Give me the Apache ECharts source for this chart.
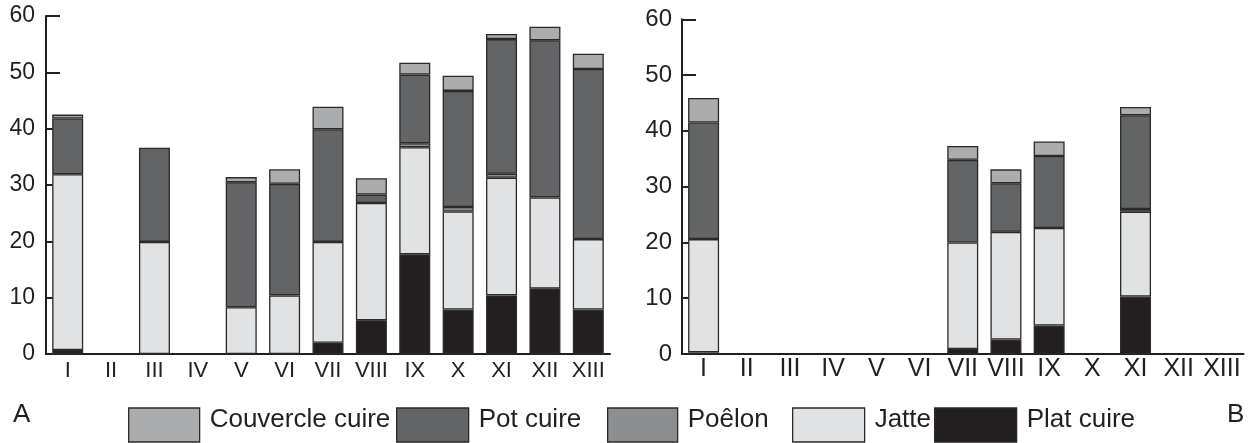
<!DOCTYPE html>
<html><head><meta charset="utf-8">
<script src="https://cdn.jsdelivr.net/npm/echarts@6/dist/echarts.min.js"></script>
<style>html,body{margin:0;padding:0;background:#fff}#c{width:1255px;height:443px}</style>
</head><body><div id="c"></div>
<script>
const categories = ['I','II','III','IV','V','VI','VII','VIII','IX','X','XI','XII','XIII'];
const yTicks = [0,10,20,30,40,50,60];
const seriesNames = ['Plat cuire','Jatte','Poêlon','Pot cuire','Couvercle cuire'];

// Panel A (stack bottom -> top)
const A_plat   = [0.7, null, null, null, null, null, 2.0, 6.0, 17.7, 7.9, 10.4, 11.6, 7.9];
const A_jatte  = [31.2, null, 19.9, null, 8.3, 10.4, 17.9, 20.8, 19.0, 17.4, 20.9, 16.2, 12.5];
const A_poelon = [null, null, null, null, null, null, null, null, 0.7, 0.8, 0.7, null, null];
const A_pot    = [9.9, null, 16.7, null, 22.2, 19.8, 20.0, 1.5, 12.2, 20.6, 23.9, 27.9, 30.2];
const A_couv   = [0.7, null, null, null, 0.9, 2.6, 4.0, 2.9, 2.1, 2.7, 0.9, 2.4, 2.7];

// Panel B
const B_plat   = [0.3, null, null, null, null, null, 0.9, 2.6, 5.1, null, 10.3, null, null];
const B_jatte  = [20.3, null, null, null, null, null, 19.1, 19.3, 17.5, null, 15.2, null, null];
const B_poelon = [null, null, null, null, null, null, null, null, null, null, 0.5, null, null];
const B_pot    = [20.9, null, null, null, null, null, 14.8, 8.7, 12.9, null, 16.8, null, null];
const B_couv   = [4.4, null, null, null, null, null, 2.5, 2.5, 2.6, null, 1.5, null, null];

const colors = {'Plat cuire':'#231f20','Jatte':'#e1e2e3','Poêlon':'#8d8e90','Pot cuire':'#636466','Couvercle cuire':'#abacae'};
const ink = '#231f20';
const font = 'Liberation Sans, Arial, sans-serif';

function mkSeries(name, data, idx, stack){
  return {name, type:'bar', stack, data, xAxisIndex:idx, yAxisIndex:idx, barWidth:31,
    itemStyle:{color:colors[name], borderColor:'#2a2a2a', borderWidth:1.3},
    emphasis:{disabled:true}, animation:false};
}
const aData = [A_plat, A_jatte, A_poelon, A_pot, A_couv];
const bData = [B_plat, B_jatte, B_poelon, B_pot, B_couv];
const series = [];
seriesNames.forEach((n,i)=>series.push(mkSeries(n, aData[i], 0, 'A')));
seriesNames.forEach((n,i)=>series.push(mkSeries(n, bData[i], 1, 'B')));

function xAxis(idx, fs, margin){
  return {type:'category', gridIndex:idx, data:categories,
    axisLine:{lineStyle:{color:ink, width:2}},
    axisTick:{inside:true, length:7, lineStyle:{color:ink, width:2}},
    axisLabel:{color:ink, fontSize:fs, fontFamily:font, margin, interval:0}};
}
function yAxis(idx, fs, margin){
  return {type:'value', gridIndex:idx, min:yTicks[0], max:yTicks[yTicks.length-1], interval:10,
    axisLine:{show:true, lineStyle:{color:ink, width:2}},
    axisTick:{show:true, inside:true, length:14, lineStyle:{color:ink, width:2}},
    splitLine:{show:false},
    axisLabel:{color:ink, fontSize:fs, fontFamily:font, margin, padding:[5,0,0,0]}};
}

const legendPos = [
  {name:'Couvercle cuire', left:128, w:71},
  {name:'Pot cuire', left:396, w:72},
  {name:'Poêlon', left:607, w:70},
  {name:'Jatte', left:792, w:72},
  {name:'Plat cuire', left:934, w:82}
];
const legends = legendPos.map(p=>({
  data:[p.name], left:p.left, top:407, padding:0, itemWidth:p.w, itemHeight:34,
  icon:'rect', selectedMode:false,
  itemStyle:{color:colors[p.name], borderColor:'#2a2a2a', borderWidth:1.3},
  formatter:'{t|{name}}',
  textStyle:{color:ink, fontSize:26, fontFamily:font,
    rich:{t:{color:ink, fontSize:26, fontFamily:font, padding:[0,0,10,5]}}}
}));

const chart = echarts.init(document.getElementById('c'), null, {renderer:'canvas'});
chart.setOption({
  animation:false,
  backgroundColor:'#fff',
  title:[
    {text:'A', left:13, top:402, padding:0, textStyle:{color:ink, fontSize:26, fontWeight:'normal', fontFamily:font}},
    {text:'B', left:1227, top:402, padding:0, textStyle:{color:ink, fontSize:26, fontWeight:'normal', fontFamily:font}}
  ],
  legend:legends,
  grid:[
    {left:46, top:16, right:645, bottom:89},
    {left:682, top:19.3, right:11.5, bottom:89}
  ],
  xAxis:[xAxis(0,22,6), xAxis(1,25,3)],
  yAxis:[yAxis(0,23,11), yAxis(1,24,10)],
  series
});
</script></body></html>
